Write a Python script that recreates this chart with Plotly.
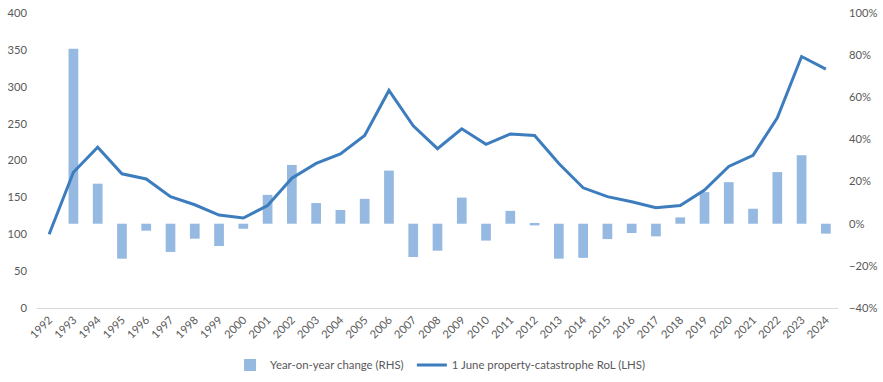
import plotly.graph_objects as go

years = [str(y) for y in range(1992, 2025)]
rol_index = [100, 184, 218, 182, 175, 151, 140, 126, 122, 139, 176, 196, 209, 234, 295,
             247, 216, 243, 222, 236, 234, 196, 163, 151, 144, 136, 139, 160, 192, 207,
             258, 341, 324]
yoy_change = [None, 0.83, 0.19, -0.166, -0.033, -0.134, -0.071, -0.106, -0.024, 0.137,
              0.279, 0.098, 0.065, 0.118, 0.252, -0.158, -0.128, 0.124, -0.080, 0.061,
              -0.008, -0.166, -0.162, -0.073, -0.044, -0.060, 0.030, 0.150, 0.197, 0.071,
              0.245, 0.325, -0.047]

font_family = "Lato, Liberation Sans, sans-serif"
grey = "#595959"
tick_size = 11.2

fig = go.Figure()
fig.add_trace(go.Bar(
    x=years, y=yoy_change, name="Year-on-year change (RHS)",
    marker=dict(color="#95B9E1", line=dict(width=0)),
    yaxis="y", legend="legend",
))
fig.add_trace(go.Scatter(
    x=years, y=rol_index, name="1 June property-catastrophe RoL (LHS)",
    mode="lines", line=dict(color="#3D7DBE", width=3),
    yaxis="y2", legend="legend2",
))

legend_common = dict(orientation="h", xanchor="left", y=-0.193, yanchor="middle",
                     font=dict(size=11.4, color=grey), itemwidth=30,
                     bgcolor="rgba(0,0,0,0)")

fig.update_layout(
    width=883, height=382,
    margin=dict(l=37, r=45, t=13, b=74, autoexpand=False),
    paper_bgcolor="white", plot_bgcolor="white",
    font=dict(family=font_family, size=tick_size, color=grey),
    bargap=0.6,
    showlegend=True,
    legend=dict(x=0.241, **legend_common),
    legend2=dict(x=0.468, **legend_common),
    xaxis=dict(type="category", tickangle=-45, showgrid=False, showline=True,
               linecolor="#D9D9D9", linewidth=1, ticks="", automargin=False,
               tickfont=dict(size=tick_size, color=grey), zeroline=False),
    yaxis=dict(side="right", range=[-0.4, 1.0], dtick=0.2, tickformat=".0%",
               showgrid=False, zeroline=False, showline=False, ticks="", automargin=False,
               ticklabelstandoff=10, tickfont=dict(size=tick_size, color=grey)),
    yaxis2=dict(side="left", overlaying="y", range=[0, 400], dtick=50, automargin=False,
                showgrid=False, zeroline=False, showline=False, ticks="",
                ticklabelstandoff=9, tickfont=dict(size=tick_size, color=grey)),
)

fig.write_html("out.html", config={"displayModeBar": False},
               post_script="document.body.style.margin='0';")
